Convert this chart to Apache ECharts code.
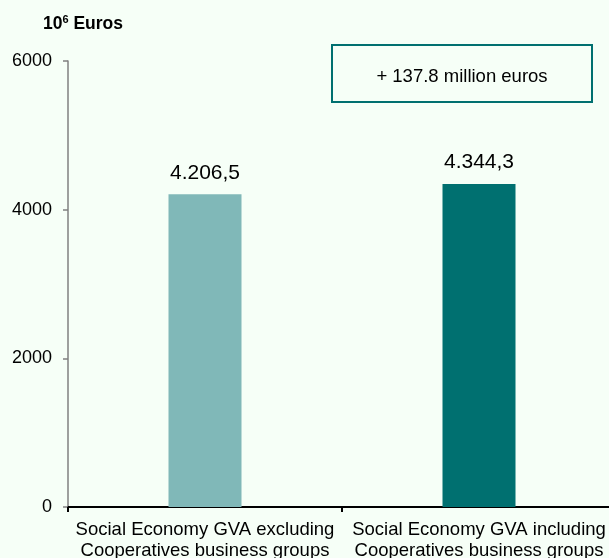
<!DOCTYPE html>
<html>
<head>
<meta charset="utf-8">
<script src="https://cdn.jsdelivr.net/npm/echarts@6/dist/echarts.min.js"></script>
<style>
html,body{margin:0;padding:0;background:#F6FFF7;}
#chart{width:609px;height:558px;}
</style>
</head>
<body>
<div id="chart"></div>
<script>
// GVA of the Social Economy, with and without cooperative business groups (10^6 euros)
const categories = [
  'Social Economy GVA excluding\nCooperatives business groups',
  'Social Economy GVA including\nCooperatives business groups'
];
const gvaValues = [4206.5, 4344.3];
const barColors = ['#80B8B8', '#007070'];
const yTicks = [0, 2000, 4000, 6000];
const differenceNote = '+ 137.8 million euros';

const FONT = 'Liberation Sans, Arial, sans-serif';

// European style: dot for thousands, comma for decimals
const fmt = v => {
  const parts = v.toFixed(1).split('.');
  return parts[0].replace(/\B(?=(\d{3})+(?!\d))/g, '.') + ',' + parts[1];
};

const chart = echarts.init(document.getElementById('chart'), null, {renderer: 'canvas'});
chart.setOption({
  backgroundColor: '#F6FFF7',
  animation: false,
  textStyle: {fontFamily: FONT},
  // plot area runs slightly past the right edge of the canvas
  grid: {left: 68, width: 548, top: 61, bottom: 51, containLabel: false, outerBoundsMode: 'none'},
  xAxis: {
    type: 'category',
    data: categories,
    axisLine: {lineStyle: {color: '#000', width: 2}},
    axisTick: {show: true, length: 5, lineStyle: {color: '#000', width: 2}},
    axisLabel: {interval: 0, fontSize: 18.5, color: '#000', lineHeight: 21, margin: 12}
  },
  yAxis: {
    type: 'value',
    min: yTicks[0],
    max: yTicks[yTicks.length - 1],
    interval: 2000,
    splitLine: {show: false},
    axisLine: {show: true, lineStyle: {color: '#808080', width: 1.5}},
    axisTick: {show: true, length: 5, lineStyle: {color: '#808080', width: 1.5}},
    axisLabel: {fontSize: 18, color: '#000', margin: 16, formatter: v => String(v)}
  },
  series: [{
    type: 'bar',
    barWidth: 73,
    data: gvaValues.map((v, i) => ({value: v, itemStyle: {color: barColors[i]}})),
    label: {
      show: true,
      position: 'top',
      distance: 11,
      fontSize: 21,
      color: '#000',
      formatter: p => fmt(p.value)
    }
  }],
  graphic: [
    {
      type: 'text',
      x: 43,
      y: 24,
      style: {
        text: '{b|10}{s|6}{b| Euros}',
        verticalAlign: 'middle',
        rich: {
          b: {fontSize: 17.5, fontWeight: 'bold', fill: '#000', fontFamily: FONT},
          s: {fontSize: 11, fontWeight: 'bold', fill: '#000', fontFamily: FONT, padding: [0, 0, 8, 0]}
        }
      }
    },
    {
      type: 'rect',
      shape: {x: 332, y: 45, width: 260, height: 57},
      style: {fill: '#F6FFF7', stroke: '#007070', lineWidth: 2}
    },
    {
      type: 'text',
      x: 462,
      y: 77,
      style: {
        text: differenceNote,
        fill: '#000',
        fontSize: 18.5,
        fontFamily: FONT,
        align: 'center',
        verticalAlign: 'middle'
      }
    }
  ]
});
</script>
</body>
</html>
